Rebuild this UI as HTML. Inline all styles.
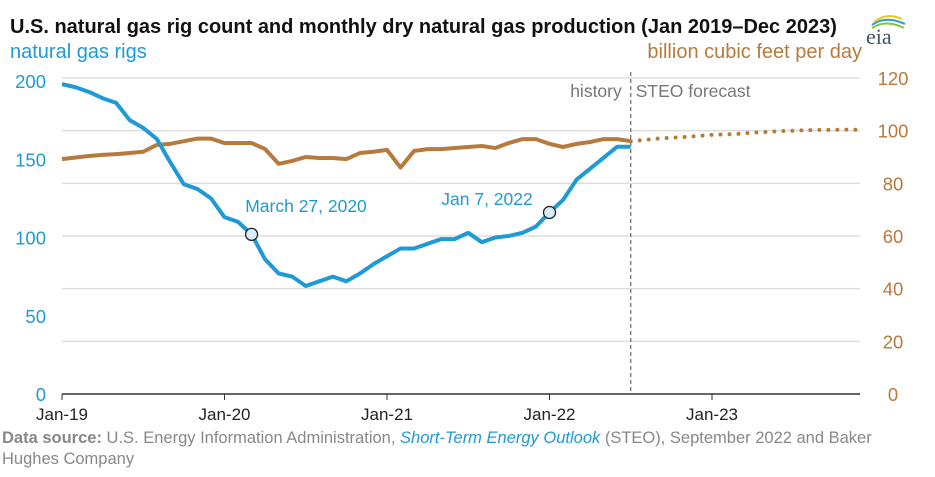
<!DOCTYPE html>
<html><head><meta charset="utf-8"><style>
body{margin:0;background:#fff;font-family:"Liberation Sans",Arial,sans-serif;}
svg{display:block}
</style></head><body>
<svg width="935" height="477" xmlns="http://www.w3.org/2000/svg" id="chart" font-family="Liberation Sans, Arial, sans-serif">
<text x="10" y="33" font-size="20" font-weight="bold" fill="#111">U.S. natural gas rig count and monthly dry natural gas production (Jan 2019–Dec 2023)</text>
<text x="10" y="58" font-size="20" fill="#1f9ad4">natural gas rigs</text>
<text x="862" y="58" font-size="20" fill="#b87a3c" text-anchor="end">billion cubic feet per day</text>
<g>
<path d="M872 25 Q885 15 905 24" stroke="#2a9cd0" stroke-width="2" fill="none"/>
<path d="M872 28 Q886 19 904 28" stroke="#8cc43f" stroke-width="2" fill="none"/>
<path d="M874 22 Q886 12 902 19" stroke="#f2c318" stroke-width="2" fill="none"/>
<text x="866" y="44" font-size="22" fill="#3f5566" font-family="Liberation Serif, serif">eia</text>
</g>
<g id="grid"></g>
<g id="marks"></g>
<text x="2" y="443" font-size="16.5" fill="#888"><tspan font-weight="bold">Data source:</tspan> U.S. Energy Information Administration, <tspan font-style="italic" fill="#1f9ad4">Short-Term Energy Outlook</tspan> (STEO), September 2022 and Baker</text>
<text x="2" y="464" font-size="16.5" fill="#888">Hughes Company</text>
</svg>
<script>
const rigs=[198,196,193,189,186,175,170,163,148,134,131,125,113,110,102,86,77,75,69,72,75,72,77,83,88,93,93,96,99,99,103,97,100,101,103,107,116,124,137,144,151,158,158];
const gasHist=[89.2,89.8,90.4,90.8,91.1,91.5,92,94.6,95,96,97,97,95.3,95.3,95.3,93,87.4,88.5,90,89.6,89.6,89.2,91.5,92,92.7,86,92.3,93,93,93.4,93.8,94.2,93.4,95.3,96.8,96.8,95,93.8,95,95.7,96.8,96.8,96];
const gasFcst=[96,96.5,97,97.3,97.6,98,98.4,98.6,98.8,99.2,99.5,99.8,100,100.2,100.3,100.3,100.4,100.3];
const leftTicks=[0,50,100,150,200];
const rightTicks=[0,20,40,60,80,100,120];
const xTickLabels=["Jan-19","Jan-20","Jan-21","Jan-22","Jan-23"];
const NS="http://www.w3.org/2000/svg";
const X=m=>62+m*(650/48);
const YL=v=>394-v*(313/200);
const YR=v=>394-v*(316/120);
const grid=document.getElementById('grid'),marks=document.getElementById('marks');
function mk(p,tag,a){const e=document.createElementNS(NS,tag);for(const k in a)e.setAttribute(k,a[k]);p.appendChild(e);return e;}
rightTicks.forEach((v,i)=>{
 const y=YR(v);
 if(v>0){const l=mk(grid,'line',{x1:62,x2:860,y1:y,y2:y,stroke:'#ddd','stroke-width':1.5});
 
 }
 const t=mk(grid,'text',{x:893,y:y+7,'font-size':18.5,fill:'#b87a3c','text-anchor':'middle'});t.textContent=v;
 
 
});
leftTicks.forEach(v=>{
 const t=mk(grid,'text',{x:46,y:YL(v)+7,'font-size':18.5,fill:'#1f9ad4','text-anchor':'end'});t.textContent=v;
 
 
});
const ax=mk(grid,'line',{x1:62,x2:860,y1:394,y2:394,stroke:'#333','stroke-width':1.5});


xTickLabels.forEach((s,i)=>{
 const x=X(i*12);
 mk(grid,'line',{x1:x,x2:x,y1:394,y2:400,stroke:'#333'});
 const t=mk(grid,'text',{x:x,y:420,'font-size':17,fill:'#222','text-anchor':'middle'});t.textContent=s;
 
 
});
const dv=mk(grid,'line',{x1:X(42),x2:X(42),y1:72,y2:394,stroke:'#777','stroke-dasharray':'4,3','stroke-width':1.3});


let t=mk(grid,'text',{x:X(42)-9,y:97,'font-size':17.5,fill:'#777','text-anchor':'end'});t.textContent='history';


t=mk(grid,'text',{x:X(42)+5,y:97,'font-size':17.5,fill:'#777'});t.textContent='STEO forecast';


const gp=mk(marks,'polyline',{points:gasHist.map((v,i)=>X(i)+','+YR(v)).join(' '),fill:'none',stroke:'#b87a3c','stroke-width':4,'stroke-linejoin':'round'});


const gf=mk(marks,'polyline',{points:gasFcst.map((v,i)=>X(i+42)+','+YR(v)).join(' '),fill:'none',stroke:'#b87a3c','stroke-width':4,'stroke-dasharray':'0,9','stroke-linecap':'round'});


const rp=mk(marks,'polyline',{points:rigs.map((v,i)=>X(i)+','+YL(v)).join(' '),fill:'none',stroke:'#1f9ad4','stroke-width':4,'stroke-linejoin':'round'});


[[14,'March 27, 2020',306,212],[36,'Jan 7, 2022',487,205]].forEach(a=>{
 const c=mk(marks,'circle',{cx:X(a[0]),cy:YL(rigs[a[0]]),r:6,fill:'#d5eef9',stroke:'#222','stroke-width':1.3});
 
 
 const tt=mk(marks,'text',{x:a[2],y:a[3],'font-size':17.5,fill:'#1f9ad4','text-anchor':'middle'});tt.textContent=a[1];
 
 
});
</script>
</body></html>
